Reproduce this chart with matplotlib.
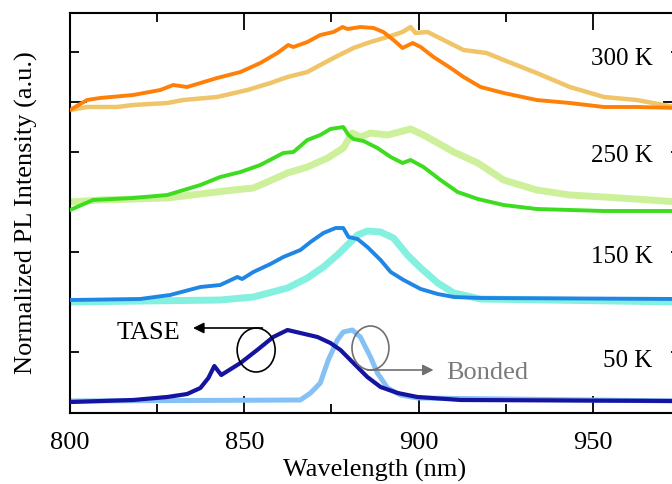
import matplotlib
matplotlib.use("Agg")
import matplotlib.pyplot as plt
import matplotlib.ticker as ticker
from matplotlib.patches import Ellipse

plt.rcParams["font.family"] = ["Liberation Serif", "DejaVu Serif"]

# ── Data (wavelength in nm, offset-normalized intensity) ──
# 300 K
wl_300_tase = [800, 804.9, 808.6, 818.1, 825.9, 829.6, 833.6, 842.2, 848.9, 854.6,
               859.5, 862.6, 864.1, 868.1, 871.8, 875.6, 878.2, 879.6, 883.3, 887.1,
               889.9, 892.8, 895.4, 898.3, 900.6, 904.3, 909.2, 912.9, 917.8, 924.4,
               933.9, 943.4, 953.2, 962.6, 975]
pl_300_tase = [2.92, 3.02, 3.04, 3.07, 3.12, 3.17, 3.15, 3.24, 3.30, 3.39,
               3.49, 3.57, 3.55, 3.60, 3.67, 3.70, 3.75, 3.73, 3.75, 3.74,
               3.70, 3.62, 3.54, 3.59, 3.55, 3.45, 3.34, 3.25, 3.15, 3.09,
               3.02, 2.99, 2.95, 2.95, 2.94]
wl_300_bond = [800, 804.9, 813.5, 818.1, 827.9, 832.5, 842.2, 850.9, 857.5, 862.4,
               868.1, 871.8, 875.6, 881.3, 886.2, 891.1, 895.4, 897.7, 899.1, 902.6,
               908.3, 912.9, 919.5, 924.4, 933.9, 943.4, 953.2, 962.6, 975]
pl_300_bond = [2.92, 2.95, 2.95, 2.97, 2.99, 3.02, 3.05, 3.12, 3.19, 3.25,
               3.30, 3.37, 3.44, 3.54, 3.60, 3.65, 3.70, 3.75, 3.69, 3.70,
               3.60, 3.52, 3.49, 3.42, 3.29, 3.15, 3.05, 3.02, 2.94]

# 250 K
wl_250_tase = [800, 806.6, 818.1, 827.9, 837.4, 843.1, 848.9, 854.6, 861.2, 864.1,
               868.1, 871.8, 874.7, 878.4, 879.9, 881.3, 884.2, 888.2, 892.0, 895.4,
               897.7, 901.4, 906.3, 911.2, 917.0, 924.4, 933.9, 953.2, 975]
pl_250_tase = [1.92, 2.02, 2.04, 2.07, 2.17, 2.25, 2.30, 2.37, 2.49, 2.50,
               2.62, 2.67, 2.73, 2.75, 2.67, 2.63, 2.61, 2.54, 2.45, 2.39,
               2.42, 2.35, 2.22, 2.10, 2.03, 1.97, 1.93, 1.91, 1.91]
wl_250_bond = [800, 808.6, 827.9, 846.8, 852.6, 856.6, 862.4, 868.1, 873.9, 878.4,
               881.0, 883.3, 886.2, 891.1, 897.7, 901.4, 905.5, 910.1, 917.0, 924.4,
               933.9, 943.4, 953.2, 975]
pl_250_bond = [2.00, 2.02, 2.04, 2.12, 2.14, 2.20, 2.29, 2.35, 2.44, 2.54,
               2.69, 2.65, 2.69, 2.67, 2.73, 2.67, 2.59, 2.50, 2.39, 2.22,
               2.12, 2.07, 2.05, 2.00]

# 150 K
wl_150_tase = [800, 820.1, 828.7, 837.4, 843.1, 848.0, 849.4, 852.6, 857.5, 861.2,
               866.1, 869.0, 872.7, 876.2, 878.4, 879.9, 882.5, 885.3, 889.1, 892.0,
               895.7, 900.6, 905.5, 910.1, 917.8, 975]
pl_150_tase = [1.02, 1.03, 1.07, 1.15, 1.17, 1.25, 1.23, 1.30, 1.38, 1.45,
               1.52, 1.60, 1.69, 1.74, 1.74, 1.65, 1.63, 1.55, 1.42, 1.30,
               1.22, 1.13, 1.08, 1.05, 1.04, 1.03]
wl_150_bond = [800, 843.1, 852.6, 862.4, 868.1, 872.7, 876.7, 879.6, 882.5, 885.3,
               889.1, 892.8, 896.8, 900.6, 905.5, 910.1, 917.8, 975]
pl_150_bond = [1.00, 1.02, 1.05, 1.14, 1.24, 1.35, 1.47, 1.57, 1.67, 1.71,
               1.70, 1.64, 1.47, 1.34, 1.19, 1.09, 1.03, 1.00]

# 50 K
wl_50_tase = [800, 818.1, 827.9, 833.6, 837.4, 839.7, 841.4, 843.4, 848.9, 853.7,
              858.3, 862.4, 866.1, 871.0, 874.7, 877.6, 881.3, 885.3, 889.1, 894.0,
              899.7, 912.1, 975]
pl_50_tase = [0.00, 0.02, 0.05, 0.08, 0.14, 0.24, 0.36, 0.27, 0.39, 0.52,
              0.65, 0.72, 0.69, 0.65, 0.59, 0.52, 0.39, 0.25, 0.15, 0.09,
              0.05, 0.02, 0.01]
wl_50_bond = [800, 866.1, 869.0, 871.8, 874.1, 876.7, 878.4, 881.0, 883.3, 886.2,
              888.2, 891.1, 894.8, 899.7, 975]
pl_50_bond = [0.01, 0.02, 0.09, 0.19, 0.42, 0.62, 0.70, 0.72, 0.65, 0.45,
              0.29, 0.14, 0.07, 0.04, 0.01]

temp_labels = ["300 K", "250 K", "150 K", "50 K"]
temp_label_y = [3.37, 2.40, 1.39, 0.35]

# ── Colours ──
C_300_TASE, C_300_BOND = "#ff8008", "#f0c468"
C_250_TASE, C_250_BOND = "#3ddc1e", "#cdf09a"
C_150_TASE, C_150_BOND = "#1f86e6", "#84f0df"
C_50_TASE, C_50_BOND = "#1414a0", "#85c1f5"
GREY = "#707070"

fig = plt.figure(figsize=(6.72, 4.84), dpi=100)
ax = fig.add_axes([70 / 672, 71 / 484, 610 / 672, 400 / 484])

# bonded (behind)
ax.plot(wl_300_bond, pl_300_bond, color=C_300_BOND, lw=3.2, zorder=2)
ax.plot(wl_250_bond, pl_250_bond, color=C_250_BOND, lw=5.0, zorder=2)
ax.plot(wl_150_bond, pl_150_bond, color=C_150_BOND, lw=5.0, zorder=2)
ax.plot(wl_50_bond, pl_50_bond, color=C_50_BOND, lw=3.6, zorder=2)
# TASE (front)
ax.plot(wl_300_tase, pl_300_tase, color=C_300_TASE, lw=2.8, zorder=3)
ax.plot(wl_250_tase, pl_250_tase, color=C_250_TASE, lw=2.8, zorder=3)
ax.plot(wl_150_tase, pl_150_tase, color=C_150_TASE, lw=2.8, zorder=3)
ax.plot(wl_50_tase, pl_50_tase, color=C_50_TASE, lw=3.0, zorder=3)

for lab, y in zip(temp_labels, temp_label_y):
    ax.text(967.2, y, lab, ha="right", va="baseline", fontsize=18, color="black")

# annotations
ax.add_patch(Ellipse((853.4, 0.52), 10.9, 0.44, fill=False, ec="black", lw=1.2, zorder=5))
ax.annotate("", xy=(835.3, 0.74), xytext=(855.2, 0.74),
            arrowprops=dict(arrowstyle="-|>", color="black", lw=1.2,
                            mutation_scale=16, shrinkA=0, shrinkB=0), zorder=5)
ax.text(813.5, 0.63, "TASE", ha="left", va="baseline", fontsize=19, color="black")

ax.add_patch(Ellipse((886.2, 0.54), 10.6, 0.44, fill=False, ec=GREY, lw=1.2, zorder=5))
ax.annotate("", xy=(904.3, 0.32), xytext=(885.3, 0.32),
            arrowprops=dict(arrowstyle="-|>", color=GREY, lw=1.2,
                            mutation_scale=16, shrinkA=0, shrinkB=0), zorder=5)
ax.text(908.0, 0.23, "Bonded", ha="left", va="baseline", fontsize=19, color="#7a7a7a")

# axes
ax.set_xlim(800, 975)
ax.set_ylim(-0.11, 3.89)
ax.xaxis.set_major_locator(ticker.MultipleLocator(50))
ax.xaxis.set_minor_locator(ticker.MultipleLocator(25))
ax.yaxis.set_major_locator(ticker.FixedLocator([3.0]))
ax.yaxis.set_minor_locator(ticker.MultipleLocator(0.5))
ax.tick_params(which="both", direction="in", top=True, right=True, width=1.3)
ax.tick_params(which="major", length=12)
ax.tick_params(which="minor", length=6.5)
ax.tick_params(axis="x", which="major", labelsize=19, pad=13.5)
ax.tick_params(axis="y", labelleft=False)
for spine in ax.spines.values():
    spine.set_linewidth(1.5)

ax.set_xlabel("Wavelength (nm)", fontsize=19)
ax.set_ylabel("Normalized PL Intensity (a.u.)", fontsize=19)
ax.xaxis.set_label_coords(0.5, -0.116)
ax.yaxis.set_label_coords(-0.052, 0.5)

fig.savefig("out.png", dpi=100)
